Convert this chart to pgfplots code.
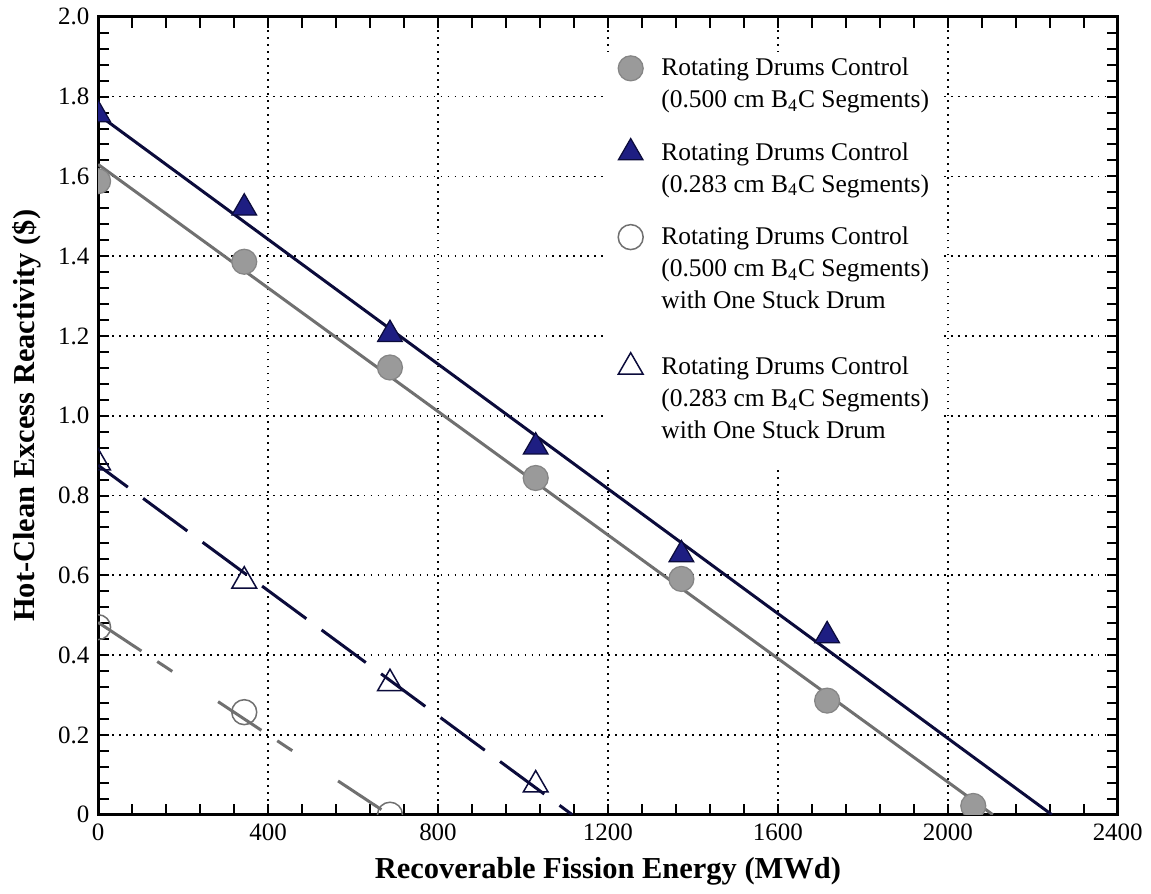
\documentclass[border=0pt]{standalone}
\usepackage{fontspec}
\setmainfont{Liberation Serif}
\usepackage{pgfplots}
\pgfplotsset{compat=1.18}
\definecolor{navyline}{HTML}{0B0B3B}
\definecolor{navyfill}{HTML}{1E1E82}
\definecolor{grayline}{HTML}{707070}
\definecolor{grayfill}{HTML}{9A9A9A}
\definecolor{grayedge}{HTML}{858585}
\newcommand\ls[2]{\rule[-#2]{0pt}{\dimexpr#1+#2\relax}}
\begin{document}
\begin{tikzpicture}
\begin{axis}[
  scale only axis, width=408.4pt, height=319.6pt,
  xmin=0, xmax=2400, ymin=0, ymax=2,
  xtick={0,400,800,1200,1600,2000,2400},
  xticklabels={0,400,800,1200,1600,2000,2400},
  ytick={0,0.2,0.4,0.6,0.8,1.0,1.2,1.4,1.6,1.8,2.0},
  yticklabels={0,0.2,0.4,0.6,0.8,1.0,1.2,1.4,1.6,1.8,2.0},
  minor x tick num=4, minor y tick num=4,
  tick align=inside, major tick length=4.4pt, minor tick length=4.4pt,
  every tick/.style={black, line width=0.8pt},
  axis line style={line width=1.2pt},
  grid=major,
  major grid style={black, line width=0.7pt, dash pattern=on 0.7pt off 2.1pt},
  ticklabel style={font=\fontsize{10}{12}\selectfont},
  xlabel={Recoverable Fission Energy (MWd)},
  ylabel={Hot-Clean Excess Reactivity (\$)},
  label style={font=\fontsize{12.2}{14}\selectfont\bfseries},
  clip marker paths=true,
  legend cell align=left,
  legend style={at={(0.4985,0.957)}, anchor=north west, draw=none, fill=white,
    inner sep=1pt, font=\fontsize{10.2}{12}\selectfont,
    cells={anchor=base west}, nodes={inner sep=0pt, text depth=, text height=},
    row sep=2.8pt, column sep=7.3pt},
  legend image post style={yshift=3pt},
]
\addplot[navyline, line width=1.2pt, forget plot] coordinates {(0,1.755) (2245,0)};
\addplot[grayline, line width=1.2pt, forget plot] coordinates {(0,1.63) (2106,0)};
\addplot[navyline, line width=1.2pt, dash pattern=on 22pt off 7.6pt, dash phase=7.2pt, forget plot] coordinates {(0,0.876) (1116,0)};
\addplot[grayline, line width=1.2pt, dash pattern=on 20.8pt off 7.6pt on 7.2pt off 22pt, forget plot] coordinates {(0,0.482) (685,0)};

\addplot[only marks, mark=*, mark size=5pt, mark options={fill=grayfill, draw=grayedge, line width=0.5pt}]
  coordinates {(0,1.588) (344,1.386) (687,1.121) (1030,0.844) (1373,0.591) (1716,0.286) (2060,0.022)};
\addlegendentry{Rotating Drums Control\ls{8.7pt}{2.5pt}}
\addlegendimage{empty legend}
\addlegendentry{(0.500 cm B\textsubscript{4}C Segments)\hspace*{3.5pt}\ls{7.5pt}{9.5pt}}

\addplot[only marks, mark=triangle*, mark size=5.7pt, mark options={fill=navyfill, draw=navyline, line width=0.5pt}]
  coordinates {(0,1.755) (344,1.521) (687,1.204) (1030,0.922) (1373,0.652) (1716,0.449)};
\addlegendentry{Rotating Drums Control\ls{8.7pt}{2.5pt}}
\addlegendimage{empty legend}
\addlegendentry{(0.283 cm B\textsubscript{4}C Segments)\ls{7.5pt}{9.5pt}}

\addplot[only marks, mark=o, mark size=5pt, mark options={draw=grayline, line width=0.6pt}]
  coordinates {(0,0.470) (344,0.257) (687,0.0)};
\addlegendentry{Rotating Drums Control\ls{8.7pt}{2.5pt}}
\addlegendimage{empty legend}
\addlegendentry{(0.500 cm B\textsubscript{4}C Segments)\ls{7.5pt}{2.5pt}}
\addlegendimage{empty legend}
\addlegendentry{with One Stuck Drum\ls{7.5pt}{14.9pt}}

\addplot[only marks, mark=triangle, mark size=5.7pt, mark options={draw=navyline, line width=0.6pt}]
  coordinates {(0,0.882) (344,0.586) (687,0.329) (1030,0.075)};
\addlegendentry{Rotating Drums Control\ls{8.7pt}{2.5pt}}
\addlegendimage{empty legend}
\addlegendentry{(0.283 cm B\textsubscript{4}C Segments)\ls{7.5pt}{2.5pt}}
\addlegendimage{empty legend}
\addlegendentry{with One Stuck Drum\ls{7.5pt}{10.5pt}}
\end{axis}
\path (current bounding box.south west) ++(-1.6pt,0);
\end{tikzpicture}
\end{document}
